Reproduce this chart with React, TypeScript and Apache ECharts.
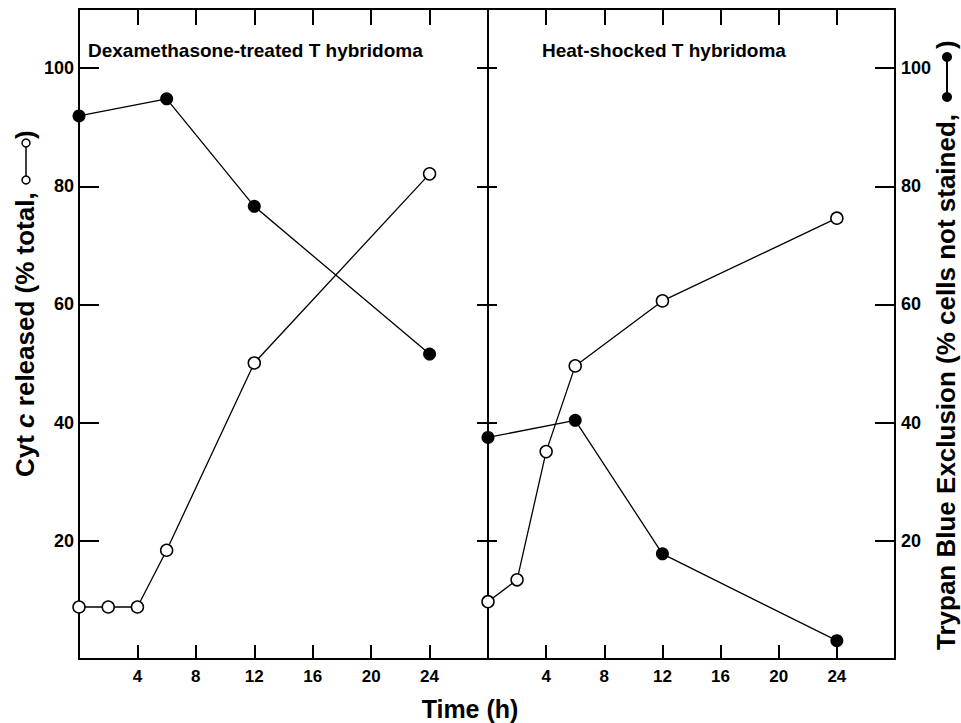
import React, { useEffect, useRef } from "react";
import * as echarts from "echarts";

// ---- data ----
const timesOpen = [0, 2, 4, 6, 12, 24];
const timesFilled = [0, 6, 12, 24];
const dexCytC = [8.8, 8.8, 8.8, 18.4, 50.1, 82.1];
const dexTrypan = [91.9, 94.8, 76.6, 51.6];
const heatCytC = [9.7, 13.4, 35.1, 49.6, 60.6, 74.6];
const heatTrypan = [37.5, 40.4, 17.8, 3.1];
const xTickLabels = [4, 8, 12, 16, 20, 24];
const yTickLabels = [20, 40, 60, 80, 100];
const panelTitles = ["Dexamethasone-treated T hybridoma", "Heat-shocked T hybridoma"];
const xAxisTitle = "Time (h)";
const leftTitleParts = ["Cyt ", "c", " released (% total,"];
const rightTitle = "Trypan Blue Exclusion (% cells not stained,";

const FONT = "'Liberation Sans', Arial, Helvetica, sans-serif";
const BLACK = "#000";

const pairs = (xs: number[], ys: number[]) => xs.map((x, i) => [x, ys[i]]);

function xAxisCfg(gridIndex: number, position: "top" | "bottom", labels: boolean, tickLen: number) {
  return {
    type: "value",
    gridIndex,
    position,
    min: 0,
    max: 28,
    interval: 4,
    axisLine: { show: true, onZero: false, lineStyle: { color: BLACK, width: 2 } },
    axisTick: { show: true, inside: true, length: tickLen, lineStyle: { color: BLACK, width: 2 } },
    axisLabel: {
      show: labels,
      margin: 9,
      fontSize: 17,
      fontWeight: "bold",
      fontFamily: FONT,
      color: BLACK,
      formatter: (v: number) => (xTickLabels.includes(v) ? String(v) : ""),
    },
    splitLine: { show: false },
  };
}

function yAxisCfg(gridIndex: number, position: "left" | "right", labels: boolean, tickLen: number) {
  return {
    type: "value",
    gridIndex,
    position,
    min: 0,
    max: 110,
    interval: 20,
    axisLine: { show: true, onZero: false, lineStyle: { color: BLACK, width: 2 } },
    axisTick: { show: true, inside: true, length: tickLen, lineStyle: { color: BLACK, width: 2 } },
    axisLabel: {
      show: labels,
      margin: position === "left" ? 5 : 6,
      fontSize: 18,
      fontWeight: "bold",
      fontFamily: FONT,
      color: BLACK,
      formatter: (v: number) => (yTickLabels.includes(v) ? String(v) : ""),
    },
    splitLine: { show: false },
  };
}

function openSeries(xi: number, yi: number, xs: number[], ys: number[]) {
  return {
    type: "line",
    xAxisIndex: xi,
    yAxisIndex: yi,
    data: pairs(xs, ys),
    symbol: "circle",
    symbolSize: 12,
    clip: false,
    z: 4,
    lineStyle: { color: BLACK, width: 1.3 },
    itemStyle: { color: "#fff", borderColor: BLACK, borderWidth: 1.5 },
  };
}

function filledSeries(xi: number, yi: number, xs: number[], ys: number[]) {
  return {
    type: "line",
    xAxisIndex: xi,
    yAxisIndex: yi,
    data: pairs(xs, ys),
    symbol: "circle",
    symbolSize: 13,
    clip: false,
    z: 3,
    lineStyle: { color: BLACK, width: 1.3 },
    itemStyle: { color: BLACK, borderColor: BLACK, borderWidth: 0 },
  };
}

const LT = { fontSize: 26, fontWeight: "bold", fontFamily: FONT, fill: BLACK, lineHeight: 24 };
const RT = { fontSize: 26, fontWeight: "bold", fontFamily: FONT, fill: BLACK, lineHeight: 24 };

export default function App() {
  const ref = useRef<HTMLDivElement>(null);
  useEffect(() => {
    if (!ref.current) return;
    const chart = echarts.init(ref.current, null, { renderer: "svg" });
    const option: any = {
      animation: false,
      backgroundColor: "#fff",
      textStyle: { fontFamily: FONT },
      grid: [
        { left: 79, top: 9, width: 409, height: 650 },
        { left: 488, top: 9, width: 407, height: 650 },
      ],
      xAxis: [
        xAxisCfg(0, "bottom", true, 14),
        xAxisCfg(0, "top", false, 16),
        xAxisCfg(1, "bottom", true, 14),
        xAxisCfg(1, "top", false, 16),
      ],
      yAxis: [
        yAxisCfg(0, "left", true, 20),
        yAxisCfg(0, "right", false, 11),
        yAxisCfg(1, "left", false, 9),
        yAxisCfg(1, "right", true, 20),
      ],
      series: [
        filledSeries(0, 1, timesFilled, dexTrypan),
        openSeries(0, 0, timesOpen, dexCytC),
        filledSeries(2, 3, timesFilled, heatTrypan),
        openSeries(2, 2, timesOpen, heatCytC),
      ],
      graphic: [
        {
          type: "text",
          x: 88,
          y: 50,
          style: { text: panelTitles[0], fontSize: 19, fontWeight: "bold", fontFamily: FONT, fill: BLACK, textAlign: "left", textVerticalAlign: "middle" },
        },
        {
          type: "text",
          x: 542,
          y: 50,
          style: { text: panelTitles[1], fontSize: 19, fontWeight: "bold", fontFamily: FONT, fill: BLACK, textAlign: "left", textVerticalAlign: "middle" },
        },
        {
          type: "text",
          x: 470,
          y: 709,
          style: { text: xAxisTitle, fontSize: 25, fontWeight: "bold", fontFamily: FONT, fill: BLACK, textAlign: "center", textVerticalAlign: "middle" },
        },
        // left axis title (reads bottom to top)
        {
          type: "text",
          x: 25,
          y: 477,
          rotation: Math.PI / 2,
          style: {
            text: `{t|${leftTitleParts[0]}}{i|${leftTitleParts[1]}}{t|${leftTitleParts[2]}}`,
            textAlign: "left",
            textVerticalAlign: "middle",
            rich: { t: { ...LT }, i: { ...LT, fontStyle: "italic" } },
          },
        },
        { type: "line", shape: { x1: 26, y1: 147, x2: 26, y2: 176 }, style: { stroke: BLACK, lineWidth: 1.5 } },
        { type: "circle", shape: { cx: 26, cy: 180, r: 4 }, style: { fill: "#fff", stroke: BLACK, lineWidth: 1.5 } },
        { type: "circle", shape: { cx: 26, cy: 143, r: 4 }, style: { fill: "#fff", stroke: BLACK, lineWidth: 1.5 } },
        {
          type: "text",
          x: 25,
          y: 139,
          rotation: Math.PI / 2,
          style: { text: ")", ...LT, textAlign: "left", textVerticalAlign: "middle" },
        },
        // right axis title (reads bottom to top)
        {
          type: "text",
          x: 946,
          y: 650,
          rotation: Math.PI / 2,
          style: { text: rightTitle, ...RT, textAlign: "left", textVerticalAlign: "middle" },
        },
        { type: "line", shape: { x1: 947, y1: 57, x2: 947, y2: 97 }, style: { stroke: BLACK, lineWidth: 2 } },
        { type: "circle", shape: { cx: 947, cy: 97, r: 5 }, style: { fill: BLACK } },
        { type: "circle", shape: { cx: 947, cy: 57, r: 5 }, style: { fill: BLACK } },
        {
          type: "text",
          x: 946,
          y: 49,
          rotation: Math.PI / 2,
          style: { text: ")", ...RT, textAlign: "left", textVerticalAlign: "middle" },
        },
      ],
    };
    chart.setOption(option);
    return () => chart.dispose();
  }, []);
  return (
    <div
      ref={ref}
      style={{ position: "fixed", left: 0, top: 0, width: 961, height: 723, background: "#fff" }}
    />
  );
}
